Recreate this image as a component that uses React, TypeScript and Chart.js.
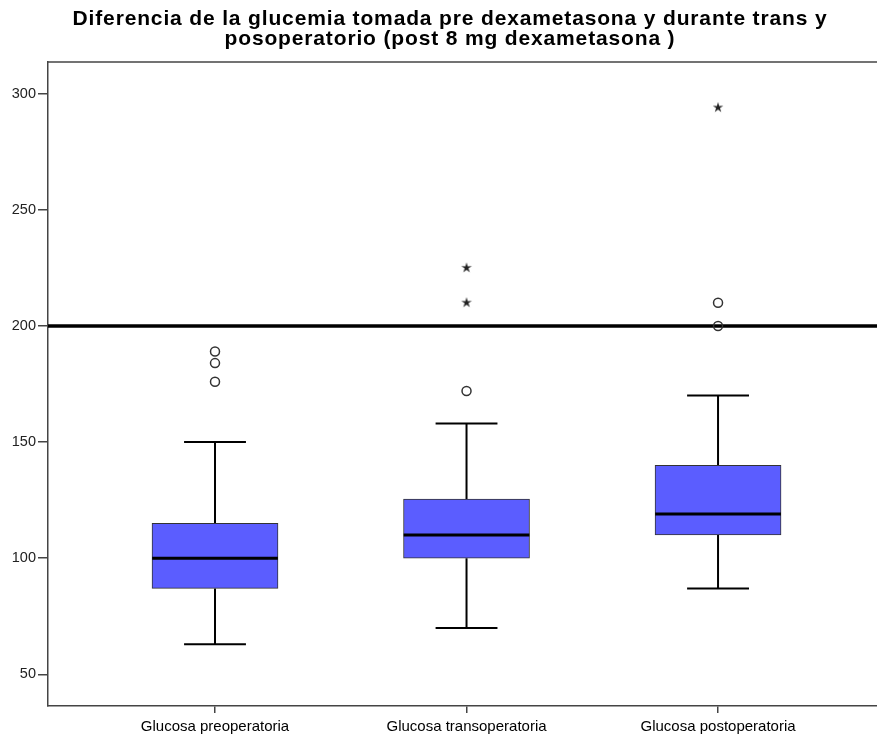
import React, { useEffect, useRef } from 'react';
import { Chart, registerables } from 'chart.js';

Chart.register(...registerables);

const titleLines = [
  'Diferencia de la glucemia tomada pre dexametasona y durante trans y',
  'posoperatorio (post 8 mg dexametasona )',
];
const categories = ['Glucosa preoperatoria', 'Glucosa transoperatoria', 'Glucosa postoperatoria'];
const whiskerLow = [63, 70, 87];
const q1 = [87, 100, 110];
const median = [100, 110, 119];
const q3 = [115, 125.5, 140];
const whiskerHigh = [150, 158, 170];
const outliersCircle = [[189, 184, 176], [172], [210, 200]];
const outliersStar = [[], [225, 210], [294]];
const referenceLine = 200;
const yTicks = [50, 100, 150, 200, 250, 300];

const FONT = "'Liberation Sans', Arial, sans-serif";

export default function App() {
  const ref = useRef<HTMLCanvasElement>(null);

  useEffect(() => {
    if (!ref.current) return;

    const star = document.createElement('canvas');
    star.width = 12;
    star.height = 12;
    const sc = star.getContext('2d')!;
    sc.fillStyle = '#222';
    sc.beginPath();
    for (let k = 0; k < 10; k++) {
      const r = k % 2 === 0 ? 5.5 : 2.0;
      const a = -Math.PI / 2 + (k * Math.PI) / 5;
      const px = 6 + r * Math.cos(a);
      const py = 6 + r * Math.sin(a);
      if (k === 0) sc.moveTo(px, py);
      else sc.lineTo(px, py);
    }
    sc.closePath();
    sc.fill();

    const xs = categories.map((_, i) => i + 1);
    const boxHalf = 0.25;
    const capHalf = 0.123;
    const xMin = 0.336;
    const xMax = 3.632;

    const whiskers: any[] = [];
    const medians: any[] = [];
    const circles: any[] = [];
    const stars: any[] = [];
    xs.forEach((x, i) => {
      whiskers.push(
        { x, y: q3[i] }, { x, y: whiskerHigh[i] }, { x, y: null },
        { x: x - capHalf, y: whiskerHigh[i] }, { x: x + capHalf, y: whiskerHigh[i] }, { x, y: null },
        { x, y: q1[i] }, { x, y: whiskerLow[i] }, { x, y: null },
        { x: x - capHalf, y: whiskerLow[i] }, { x: x + capHalf, y: whiskerLow[i] }, { x, y: null }
      );
      medians.push({ x: x - boxHalf, y: median[i] }, { x: x + boxHalf, y: median[i] }, { x, y: null });
      outliersCircle[i].forEach((v) => circles.push({ x, y: v }));
      outliersStar[i].forEach((v) => stars.push({ x, y: v }));
    });

    const framePlugin = {
      id: 'frameTop',
      beforeDatasetsDraw(chart: any) {
        const { ctx, chartArea } = chart;
        ctx.save();
        ctx.strokeStyle = '#444';
        ctx.lineWidth = 1.5;
        ctx.beginPath();
        ctx.moveTo(chartArea.left, chartArea.top);
        ctx.lineTo(chartArea.right, chartArea.top);
        ctx.stroke();
        ctx.restore();
      },
    };

    const chart = new Chart(ref.current, {
      type: 'bar',
      data: {
        datasets: [
          {
            type: 'line',
            data: circles,
            showLine: false,
            pointStyle: 'circle',
            pointRadius: 4.5,
            pointBorderWidth: 1.5,
            pointBorderColor: '#333',
            pointBackgroundColor: 'rgba(0,0,0,0)',
            order: 0,
          } as any,
          {
            type: 'line',
            data: stars,
            showLine: false,
            pointStyle: star,
            pointRadius: 6,
            order: 0,
          } as any,
          {
            type: 'line',
            data: [{ x: xMin, y: referenceLine }, { x: xMax, y: referenceLine }],
            borderColor: '#000',
            borderWidth: 3.5,
            pointRadius: 0,
            order: 1,
          } as any,
          {
            type: 'line',
            data: medians,
            borderColor: '#000',
            borderWidth: 3,
            pointRadius: 0,
            spanGaps: false,
            order: 2,
          } as any,
          {
            type: 'line',
            data: whiskers,
            borderColor: '#000',
            borderWidth: 2,
            pointRadius: 0,
            spanGaps: false,
            order: 4,
          } as any,
          {
            type: 'bar',
            data: xs.map((x, i) => ({ x, y: [q1[i], q3[i]] })),
            backgroundColor: '#5b5dff',
            borderColor: '#333',
            borderWidth: 1,
            borderSkipped: false,
            barThickness: 126,
            order: 3,
          } as any,
        ],
      },
      options: {
        animation: false,
        responsive: false,
        devicePixelRatio: 1,
        layout: { autoPadding: false, padding: { left: 0, right: -23, top: 0, bottom: 0 } },
        plugins: {
          legend: { display: false },
          tooltip: { enabled: false },
          title: {
            display: true,
            text: titleLines,
            color: '#000',
            font: { family: FONT, weight: 'bold', size: 21, lineHeight: '20.5px' },
            padding: { top: 8.75, bottom: 12.25 },
          },
        },
        scales: {
          x: {
            type: 'linear',
            min: xMin,
            max: xMax,
            offset: false,
            afterBuildTicks: (s: any) => {
              s.ticks = xs.map((v) => ({ value: v }));
            },
            afterFit: (s: any) => {
              s.height = 33;
            },
            ticks: {
              callback: (_v: any, idx: number) => categories[idx] ?? '',
              font: { family: FONT, size: 15 },
              color: '#000',
              padding: 5,
              autoSkip: false,
              maxRotation: 0,
            },
            grid: { offset: false, drawOnChartArea: false, drawTicks: true, tickLength: 7, color: '#444', lineWidth: 1.5 },
            border: { display: true, color: '#444', width: 1.5 },
          },
          y: {
            type: 'linear',
            min: 36.4,
            max: 313.6,
            afterBuildTicks: (s: any) => {
              s.ticks = yTicks.map((v) => ({ value: v }));
            },
            afterFit: (s: any) => {
              s.width = 48;
            },
            ticks: {
              font: { family: FONT, size: 14.5 },
              color: '#222',
              padding: 2,
            },
            grid: { drawOnChartArea: false, drawTicks: true, tickLength: 10, color: '#444', lineWidth: 1.5 },
            border: { display: true, color: '#444', width: 1.5 },
          },
        },
      } as any,
      plugins: [framePlugin],
    });

    const tb: any = (chart as any).titleBlock;
    if (tb) {
      const origDraw = tb.draw.bind(tb);
      tb.draw = (...args: any[]) => {
        const ctx: any = chart.ctx;
        ctx.save();
        ctx.letterSpacing = '0.85px';
        origDraw(...args);
        ctx.restore();
      };
      chart.draw();
    }

    return () => chart.destroy();
  }, []);

  return (
    <div style={{ position: 'absolute', left: 0, top: 0, width: 877, height: 739, background: '#fff' }}>
      <canvas ref={ref} width={877} height={739} />
    </div>
  );
}
